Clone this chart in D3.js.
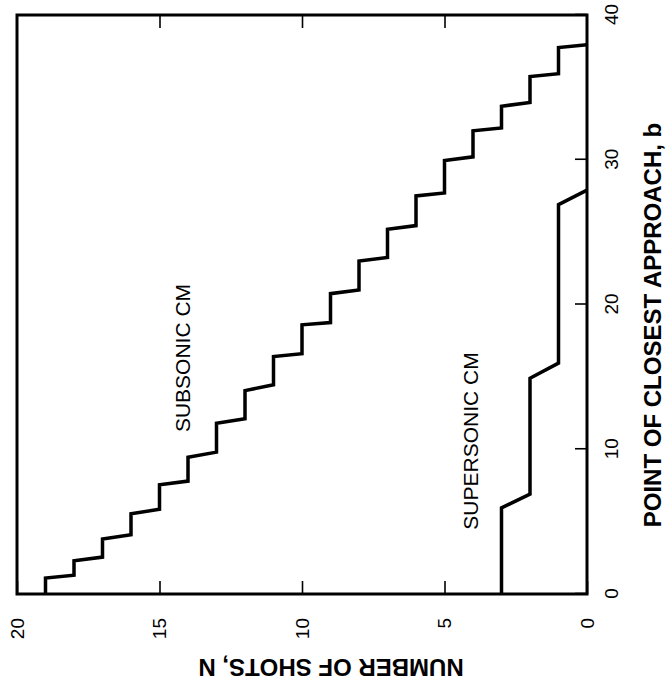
<!DOCTYPE html>
<html lang="en">
<head>
<meta charset="UTF-8">
<title>Number of shots vs point of closest approach</title>
<script src="https://cdnjs.cloudflare.com/ajax/libs/d3/7.8.5/d3.min.js"></script>
<style>
    body {
        margin: 0;
        background: #fff;
    }

    svg {
        display: block;
        font-family: "Liberation Sans", Arial, Helvetica, sans-serif;
    }

    .tick line {
        stroke: #000;
        stroke-width: 1.6;
    }

    .tick text {
        font-family: "Liberation Sans", Arial, Helvetica, sans-serif;
        font-size: 19px;
        fill: #000;
    }

    .label {
        font-size: 21px;
    }

    .title {
        font-size: 24px;
        font-weight: bold;
    }
</style>
</head>
<body>
<svg width="668" height="685"></svg>
<script>
    // tick labels
    const bTicks = [0, 10, 20, 30, 40];
    const nTicks = [0, 5, 10, 15, 20];

    // subsonic CM staircase (b, N)
    const subsonicB = [0, 1.1, 1.3, 2.3, 2.55, 3.8, 4.1, 5.55, 5.85, 7.55, 7.8, 9.45, 9.8, 11.8, 12.1, 14.05,
        14.45, 16.4, 16.6, 18.6, 18.75, 20.75, 21.0, 23.0, 23.25, 25.2, 25.45, 27.5, 27.7, 29.95,
        30.2, 32.0, 32.2, 33.7, 33.95, 35.75, 35.95, 37.75, 37.95];
    const subsonicN = [19, 19, 18, 18, 17, 17, 16, 16, 15, 15, 14, 14, 13, 13, 12, 12, 11, 11, 10, 10,
        9, 9, 8, 8, 7, 7, 6, 6, 5, 5, 4, 4, 3, 3, 2, 2, 1, 1, 0];

    // supersonic CM staircase (b, N)
    const supersonicB = [0, 5.95, 6.9, 14.9, 15.95, 26.9, 27.9];
    const supersonicN = [3, 3, 2, 2, 1, 1, 0];

    const svg = d3.select("svg");

    // the figure is printed turned on its side: draw it upright, then rotate it
    const g = svg.append("g").attr("transform", "translate(0,685) rotate(-90)");

    const x = d3.scaleLinear().domain([0, 40]).range([91, 670]);
    const y = d3.scaleLinear().domain([0, 20]).range([587, 17]);

    // b axis (ticks inside the frame)
    g.append("g")
        .attr("transform", `translate(0,${y(0)})`)
        .call(d3.axisBottom(x).tickValues(bTicks).tickSize(-12).tickPadding(18))
        .call(a => a.select(".domain").remove());

    // N axis
    g.append("g")
        .attr("transform", `translate(${x(0)},0)`)
        .call(d3.axisLeft(y).tickValues(nTicks).tickSize(-13).tickPadding(24))
        .call(a => a.select(".domain").remove());

    // mirrored N ticks on the far side
    g.append("g")
        .attr("transform", `translate(${x(40)},0)`)
        .call(d3.axisLeft(y).tickValues([5, 10, 15]).tickSize(13).tickFormat(""))
        .call(a => a.select(".domain").remove());

    // frame
    g.append("rect")
        .attr("x", x(0))
        .attr("y", y(20))
        .attr("width", x(40) - x(0))
        .attr("height", y(0) - y(20))
        .attr("fill", "none")
        .attr("stroke", "#000")
        .attr("stroke-width", 3);

    const line = d3.line()
        .x(d => x(d[0]))
        .y(d => y(d[1]));

    [d3.zip(subsonicB, subsonicN), d3.zip(supersonicB, supersonicN)].forEach(pts => {
        g.append("path")
            .datum(pts)
            .attr("d", line)
            .attr("fill", "none")
            .attr("stroke", "#000")
            .attr("stroke-width", 3.5)
            .attr("stroke-linejoin", "miter");
    });

    // curve labels
    g.append("text")
        .attr("class", "label")
        .attr("x", 327)
        .attr("y", 182)
        .attr("text-anchor", "middle")
        .attr("dominant-baseline", "central")
        .text("SUBSONIC CM");

    g.append("text")
        .attr("class", "label")
        .attr("x", 244)
        .attr("y", 470)
        .attr("text-anchor", "middle")
        .attr("dominant-baseline", "central")
        .text("SUPERSONIC CM");

    // axis titles
    g.append("text")
        .attr("class", "title")
        .attr("x", 360)
        .attr("y", 652)
        .attr("text-anchor", "middle")
        .attr("dominant-baseline", "central")
        .text("POINT OF CLOSEST APPROACH, b");

    g.append("text")
        .attr("class", "title")
        .attr("transform", "translate(18,331) rotate(-90)")
        .attr("text-anchor", "middle")
        .attr("dominant-baseline", "central")
        .text("NUMBER OF SHOTS, N");
</script>
</body>
</html>
